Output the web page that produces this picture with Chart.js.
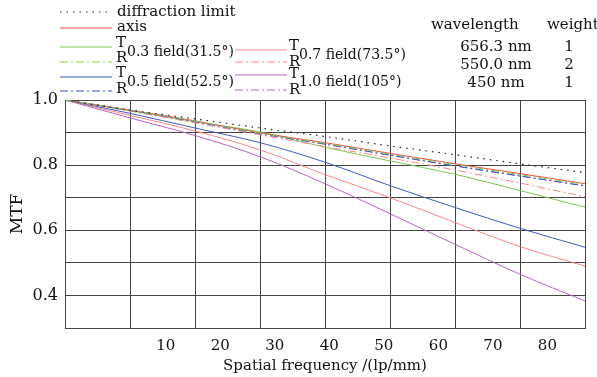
<!DOCTYPE html>
<html lang="en">
<head>
    <meta charset="UTF-8">
    <title>MTF</title>
    <script src="https://cdn.jsdelivr.net/npm/chart.js@4.4.0/dist/chart.umd.min.js"></script>
    <style>
        body { margin: 0; background: #fff; }
        .canvas-container { width: 597px; height: 377px; }
    </style>
</head>
<body>
    <div class="canvas-container">
        <canvas id="myChart" width="597" height="377"></canvas>
    </div>

    <script>
        // spatial frequency samples (lp/mm, plot runs 0..86)
        const freq = [0, 10.75, 21.5, 32.25, 43, 53.75, 64.5, 75.25, 86];

        const diffraction = [1.0, 0.969, 0.942, 0.914, 0.888, 0.859, 0.832, 0.804, 0.777];
        const axisMTF     = [1.0, 0.969, 0.936, 0.899, 0.869, 0.836, 0.804, 0.774, 0.743];
        const f03T = [1.0, 0.967, 0.933, 0.902, 0.855, 0.813, 0.772, 0.722, 0.671];
        const f03R = [1.0, 0.969, 0.935, 0.898, 0.867, 0.834, 0.802, 0.771, 0.741];
        const f05T = [1.0, 0.959, 0.914, 0.869, 0.809, 0.737, 0.670, 0.606, 0.548];
        const f05R = [1.0, 0.968, 0.934, 0.897, 0.865, 0.831, 0.798, 0.767, 0.736];
        const f07T = [1.0, 0.953, 0.905, 0.847, 0.771, 0.700, 0.624, 0.550, 0.490];
        const f07R = [1.0, 0.966, 0.930, 0.893, 0.857, 0.822, 0.785, 0.745, 0.703];
        const f10T = [1.0, 0.945, 0.891, 0.826, 0.743, 0.651, 0.557, 0.465, 0.383];
        const f10R = [1.0, 0.968, 0.933, 0.896, 0.864, 0.830, 0.797, 0.766, 0.737];

        const xTickLabels = [10, 20, 30, 40, 50, 60, 70, 80];
        const yTickLabels = [0.4, 0.6, 0.8, 1.0];

        const fieldNames = ['0.3 field(31.5°)', '0.5 field(52.5°)', '0.7 field(73.5°)', '1.0 field(105°)'];
        const wavelengths = ['656.3 nm', '550.0 nm', '450 nm'];
        const weights = ['1', '2', '1'];

        const FONT = '"DejaVu Serif", "Liberation Serif", serif';
        const FS = 15;
        const RED = 'rgb(255,70,60)';
        const GREEN = 'rgb(125,200,85)';
        const BLUE = 'rgb(60,90,200)';
        const PINK = 'rgb(250,135,135)';
        const PURPLE = 'rgb(180,100,195)';
        const DASHDOT = [8, 3, 2, 3];

        const pts = arr => arr.map((v, i) => ({ x: freq[i], y: v }));
        const line = (label, data, color, dash, width) => ({
            label: label,
            data: pts(data),
            borderColor: color,
            borderWidth: width || 1,
            borderDash: dash || [],
            pointRadius: 0,
            fill: false,
            cubicInterpolationMode: 'monotone'
        });

        // legend + wavelength table drawn straight onto the canvas
        const headerPlugin = {
            id: 'header',
            afterDraw(chart) {
                const c = chart.ctx;
                c.save();
                c.font = FS + 'px ' + FONT;
                c.fillStyle = '#111';
                c.textBaseline = 'middle';

                const sample = (x1, x2, y, color, dash) => {
                    c.beginPath();
                    c.strokeStyle = color;
                    c.lineWidth = 1;
                    c.setLineDash(dash);
                    c.moveTo(x1, y);
                    c.lineTo(x2, y);
                    c.stroke();
                };
                sample(60, 110, 12, '#222', [1.5, 5]);
                sample(60, 112, 28, RED, []);
                sample(60, 112, 47, GREEN, []);
                sample(60, 112, 62, GREEN, DASHDOT);
                sample(60, 112, 77, BLUE, []);
                sample(60, 112, 91, BLUE, DASHDOT);
                sample(235, 287, 50, PINK, []);
                sample(235, 287, 62, PINK, DASHDOT);
                sample(235, 287, 75, PURPLE, []);
                sample(235, 287, 90, PURPLE, DASHDOT);
                c.setLineDash([]);

                c.textAlign = 'left';
                c.fillText('diffraction limit', 117, 12);
                c.fillText('axis', 117, 27);
                c.fillText('T', 116, 43);
                c.fillText('R', 116, 58);
                c.fillText('T', 116, 73);
                c.fillText('R', 116, 89);
                c.fillText('T', 289, 46);
                c.fillText('R', 289, 62);
                c.fillText('T', 289, 74);
                c.fillText('R', 289, 90);

                c.font = '14px ' + FONT;
                c.fillText(fieldNames[0], 127, 52);
                c.fillText(fieldNames[1], 127, 82);
                c.fillText(fieldNames[2], 299, 55);
                c.fillText(fieldNames[3], 299, 82);

                c.font = FS + 'px ' + FONT;
                c.fillText('wavelength', 431, 25);
                c.fillText('weight', 547, 25);
                c.textAlign = 'center';
                wavelengths.forEach((w, i) => c.fillText(w, 496, 47 + i * 18));
                weights.forEach((w, i) => c.fillText(w, 569, 47 + i * 18));
                c.restore();
            }
        };

        const ctx = document.getElementById('myChart').getContext('2d');
        const myChart = new Chart(ctx, {
            type: 'line',
            data: {
                datasets: [
                    line('diffraction limit', diffraction, '#222', [1.5, 5], 1.2),
                    line('0.3 field R', f03R, GREEN, DASHDOT),
                    line('0.5 field R', f05R, BLUE, DASHDOT),
                    line('1.0 field R', f10R, PURPLE, DASHDOT),
                    line('0.7 field R', f07R, PINK, DASHDOT),
                    line('axis', axisMTF, RED),
                    line('0.3 field T', f03T, GREEN),
                    line('0.5 field T', f05T, BLUE),
                    line('0.7 field T', f07T, PINK),
                    line('1.0 field T', f10T, PURPLE)
                ]
            },
            options: {
                responsive: false,
                animation: false,
                layout: { padding: { top: 100, right: 12, left: 0, bottom: 0 } },
                plugins: {
                    legend: { display: false },
                    tooltip: { enabled: false }
                },
                scales: {
                    x: {
                        type: 'linear',
                        min: 0,
                        max: 86,
                        position: 'bottom',
                        ticks: { display: false, stepSize: 10.75 },
                        grid: { color: '#444', drawTicks: false },
                        border: { color: '#444' },
                        afterFit: s => { s.height = 0; }
                    },
                    xl: {
                        type: 'linear',
                        min: -8.5,
                        max: 86.9,
                        position: 'bottom',
                        afterBuildTicks: s => { s.ticks = xTickLabels.map(v => ({ value: v })); },
                        ticks: {
                            autoSkip: false,
                            maxRotation: 0,
                            padding: 1,
                            color: '#111',
                            font: { family: FONT, size: FS }
                        },
                        grid: { display: false },
                        border: { display: false },
                        title: {
                            display: true,
                            text: 'Spatial frequency /(lp/mm)',
                            color: '#111',
                            padding: { top: 0, bottom: 2 },
                            font: { family: FONT, size: FS }
                        },
                        afterFit: s => { s.height = 49; }
                    },
                    y: {
                        min: 0.3,
                        max: 1.0,
                        ticks: {
                            stepSize: 0.1,
                            padding: 7,
                            color: '#111',
                            font: { family: FONT, size: 16 },
                            callback: v => yTickLabels.some(t => Math.abs(t - v) < 1e-6) ? v.toFixed(1) : ''
                        },
                        grid: { color: '#444', drawTicks: false },
                        border: { color: '#444' },
                        title: {
                            display: true,
                            text: 'MTF',
                            color: '#111',
                            padding: { top: 7, bottom: 0 },
                            font: { family: FONT, size: 17 }
                        },
                        afterFit: s => { s.width = 65; }
                    }
                }
            },
            plugins: [headerPlugin]
        });
    </script>
</body>
</html>
